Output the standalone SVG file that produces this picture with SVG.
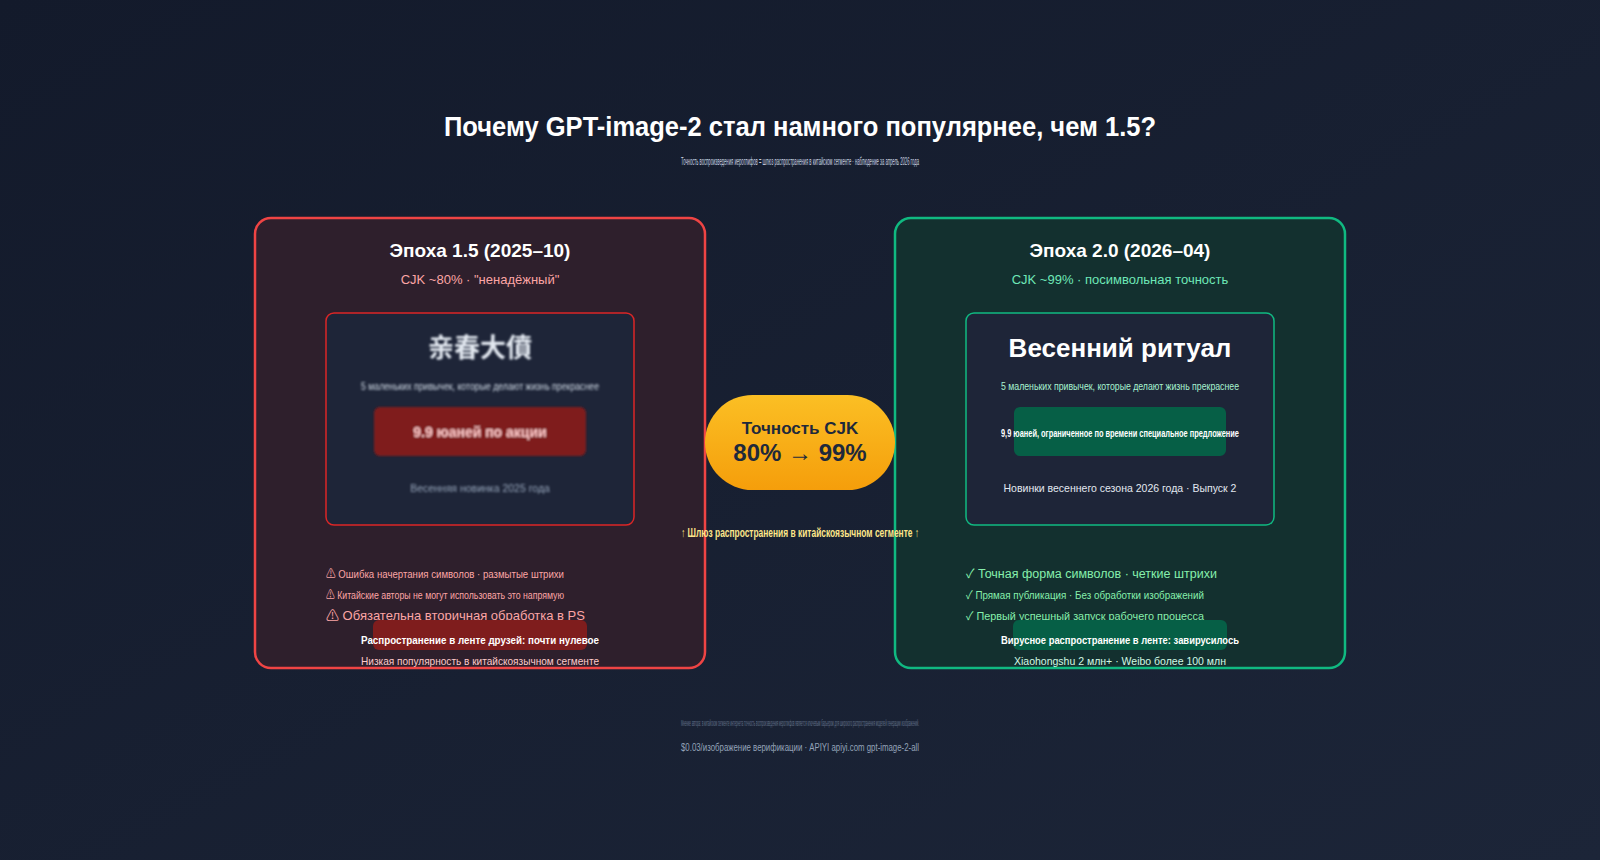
<svg xmlns="http://www.w3.org/2000/svg" width="1600" height="860" viewBox="0 0 1600 860">
<defs>
<linearGradient id="bg" x1="0" y1="0" x2="1" y2="1"><stop offset="0" stop-color="#131a2b"/><stop offset="1" stop-color="#1c2538"/></linearGradient>
<linearGradient id="pill" x1="0" y1="0" x2="0" y2="1"><stop offset="0" stop-color="#fbbf24"/><stop offset="1" stop-color="#f59e0b"/></linearGradient>
<filter id="blur"><feGaussianBlur stdDeviation="0.8"/></filter>
<style>
text{font-family:"Liberation Sans","Noto Sans CJK SC",sans-serif;text-anchor:middle}
.l{text-anchor:start}
</style>
</defs>
<rect width="1600" height="860" fill="url(#bg)"/>
<text x="800" y="136" font-size="27" font-weight="bold" fill="#fff" textLength="712" lengthAdjust="spacingAndGlyphs">Почему GPT-image-2 стал намного популярнее, чем 1.5?</text>
<text x="800" y="165" font-size="10" fill="#cbd5e1" textLength="238" lengthAdjust="spacingAndGlyphs">Точность воспроизведения иероглифов = шлюз распространения в китайском сегменте · наблюдение за апрель 2026 года</text>

<g id="left-card">
<rect x="255" y="218" width="450" height="450" rx="16" fill="#2e1f2c" stroke="#ef4444" stroke-width="2.5"/>
<text x="480" y="257" font-size="19" font-weight="bold" fill="#fff">Эпоха 1.5 (2025–10)</text>
<text x="480" y="284" font-size="13" fill="#fca5a5">CJK ~80% · "ненадёжный"</text>
<rect x="326" y="313" width="308" height="212" rx="8" fill="#1e2538" stroke="#dc2626" stroke-width="1.5"/>
<g filter="url(#blur)">
<text x="480" y="357" font-size="26" font-weight="bold" fill="#e2e8f0">亲春大僨</text>
<text x="480" y="390" font-size="11" fill="#cbd5e1" textLength="238" lengthAdjust="spacingAndGlyphs">5 маленьких привычек, которые делают жизнь прекраснее</text>
<rect x="374" y="407" width="212" height="49" rx="6" fill="#7f1d1d"/>
<text x="480" y="437" font-size="14" font-weight="bold" fill="#fecaca">9.9 юаней по акции</text>
<text x="480" y="492" font-size="10.5" fill="#94a3b8">Весенняя новинка 2025 года</text>
</g>
<text class="l" x="326" y="578" font-size="11.5" fill="#fca5a5" textLength="238" lengthAdjust="spacingAndGlyphs">⚠ Ошибка начертания символов · размытые штрихи</text>
<text class="l" x="326" y="599" font-size="11.5" fill="#fca5a5" textLength="238" lengthAdjust="spacingAndGlyphs">⚠ Китайские авторы не могут использовать это напрямую</text>
<text class="l" x="326" y="620" font-size="13" fill="#fca5a5">⚠ Обязательна вторичная обработка в PS</text>
<rect x="373" y="620" width="214" height="30" rx="6" fill="#7f1d1d"/>
<text x="480" y="644" font-size="11.5" font-weight="bold" fill="#fff" textLength="238" lengthAdjust="spacingAndGlyphs">Распространение в ленте друзей: почти нулевое</text>
<text x="480" y="665" font-size="10.5" fill="#fecaca" textLength="238" lengthAdjust="spacingAndGlyphs">Низкая популярность в китайскоязычном сегменте</text>
</g>

<g id="right-card">
<rect x="895" y="218" width="450" height="450" rx="16" fill="#13302f" stroke="#10b981" stroke-width="2.5"/>
<text x="1120" y="257" font-size="19" font-weight="bold" fill="#fff">Эпоха 2.0 (2026–04)</text>
<text x="1120" y="284" font-size="13" fill="#6ee7b7">CJK ~99% · посимвольная точность</text>
<rect x="966" y="313" width="308" height="212" rx="8" fill="#1e2538" stroke="#10b981" stroke-width="1.5"/>
<text x="1120" y="357" font-size="26" font-weight="bold" fill="#fff">Весенний ритуал</text>
<text x="1120" y="390" font-size="11" fill="#a7f3d0" textLength="238" lengthAdjust="spacingAndGlyphs">5 маленьких привычек, которые делают жизнь прекраснее</text>
<rect x="1014" y="407" width="212" height="49" rx="6" fill="#065f46"/>
<text x="1120" y="437" font-size="11" font-weight="bold" fill="#fff" textLength="238" lengthAdjust="spacingAndGlyphs">9,9 юаней, ограниченное по времени специальное предложение</text>
<text x="1120" y="492" font-size="10.5" fill="#e2e8f0">Новинки весеннего сезона 2026 года · Выпуск 2</text>
<text class="l" x="966" y="578" font-size="12.5" fill="#86efac">✓ Точная форма символов · четкие штрихи</text>
<text class="l" x="966" y="599" font-size="11.5" fill="#86efac" textLength="238" lengthAdjust="spacingAndGlyphs">✓ Прямая публикация · Без обработки изображений</text>
<text class="l" x="966" y="620" font-size="11.5" fill="#86efac" textLength="238" lengthAdjust="spacingAndGlyphs">✓ Первый успешный запуск рабочего процесса</text>
<rect x="1013" y="620" width="214" height="30" rx="6" fill="#065f46"/>
<text x="1120" y="644" font-size="11.5" font-weight="bold" fill="#fff" textLength="238" lengthAdjust="spacingAndGlyphs">Вирусное распространение в ленте: завирусилось</text>
<text x="1120" y="665" font-size="10.5" fill="#d1fae5">Xiaohongshu 2 млн+ · Weibo более 100 млн</text>
</g>

<g id="center-pill">
<rect x="705" y="395" width="190" height="95" rx="47.5" fill="url(#pill)"/>
<text x="800" y="434" font-size="17" font-weight="bold" fill="#1e293b">Точность CJK</text>
<text x="800" y="461" font-size="24" font-weight="bold" fill="#1e293b">80% → 99%</text>
</g>
<g id="connectors">
<text x="800" y="537" font-size="12" font-weight="bold" fill="#fde68a" textLength="238" lengthAdjust="spacingAndGlyphs">↑ Шлюз распространения в китайскоязычном сегменте ↑</text>
</g>

<text x="800" y="726" font-size="9" fill="#64748b" textLength="238" lengthAdjust="spacingAndGlyphs">Мнение автора: в китайском сегменте интернета точность воспроизведения иероглифов является ключевым барьером для широкого распространения моделей генерации изображений.</text>
<text x="800" y="751" font-size="11" fill="#94a3b8" textLength="238" lengthAdjust="spacingAndGlyphs">$0.03/изображение верификации · APIYI apiyi.com gpt-image-2-all</text>
</svg>
